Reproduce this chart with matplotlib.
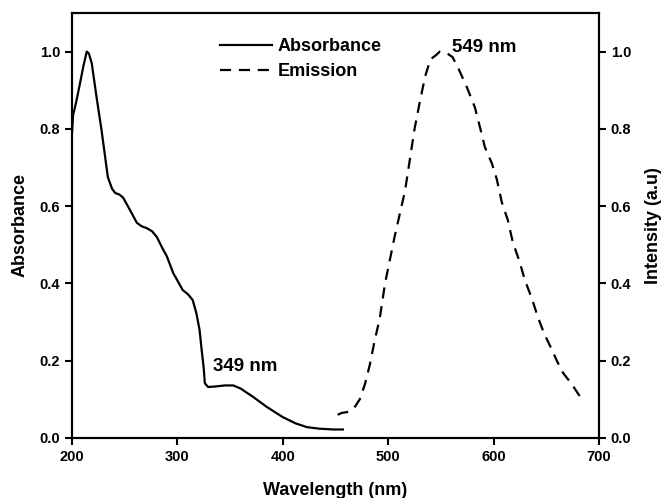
import matplotlib
matplotlib.use("Agg")
import matplotlib.pyplot as plt

plt.rcParams['font.family'] = ['Liberation Sans', 'DejaVu Sans']
plt.rcParams['font.weight'] = 'bold'

# Absorbance spectrum (wavelength nm, normalized absorbance)
abs_wl = [200, 201, 204, 207.6, 211, 214, 216, 218.7, 223.4, 228, 234, 238, 241, 245,
          248.5, 255, 261.5, 266, 271, 276, 280.5, 286, 290, 296, 305, 310, 314.5,
          318, 321, 323, 325, 326, 329, 335, 345, 353, 360, 372, 385, 400, 412, 423,
          435, 448, 457]
abs_val = [0.79, 0.835, 0.87, 0.918, 0.965, 1.0, 0.995, 0.97, 0.88, 0.797, 0.675,
           0.645, 0.634, 0.63, 0.622, 0.59, 0.557, 0.548, 0.543, 0.535, 0.52, 0.49,
           0.47, 0.427, 0.383, 0.372, 0.357, 0.323, 0.28, 0.228, 0.18, 0.142, 0.132,
           0.133, 0.136, 0.136, 0.128, 0.106, 0.08, 0.054, 0.038, 0.028, 0.024,
           0.022, 0.022]

# Emission spectrum (wavelength nm, normalized intensity)
em_wl = [452, 456, 461, 467, 473, 478, 482.6, 487, 492, 497, 501.5, 506, 511, 516,
         520.5, 525, 530, 535, 540, 545, 549, 552, 556, 561, 566, 574.6, 582.2, 587,
         591.7, 598.3, 603, 607.8, 613.5, 618.2, 624.8, 629.6, 636.2, 642, 648, 654,
         660, 666, 674, 682]
em_val = [0.06, 0.065, 0.067, 0.075, 0.10, 0.14, 0.19, 0.25, 0.31, 0.40, 0.46,
          0.52, 0.58, 0.64, 0.72, 0.80, 0.87, 0.935, 0.98, 0.99, 1.0, 0.999, 0.995,
          0.986, 0.96, 0.908, 0.856, 0.805, 0.753, 0.711, 0.67, 0.61, 0.564, 0.507,
          0.455, 0.409, 0.362, 0.313, 0.27, 0.236, 0.20, 0.168, 0.14, 0.107]

x_ticks = [200, 300, 400, 500, 600, 700]
y_ticks = [0.0, 0.2, 0.4, 0.6, 0.8, 1.0]

fig = plt.figure(figsize=(6.68, 4.98), dpi=100)
ax = fig.add_axes([0.1078, 0.1205, 0.7889, 0.8535])
ax2 = ax.twinx()

l1, = ax.plot(abs_wl, abs_val, color='black', lw=1.6, label='Absorbance')
l2, = ax2.plot(em_wl, em_val, color='black', lw=1.6, linestyle=(0, (5, 3.5)), label='Emission')

ax.set_xlim(200, 700)
ax.set_ylim(0, 1.1)
ax2.set_ylim(0, 1.1)
ax.set_xticks(x_ticks)
ax.set_yticks(y_ticks)
ax2.set_yticks(y_ticks)
ax.set_xticklabels([str(v) for v in x_ticks])
ax.set_yticklabels([f"{v:.1f}" for v in y_ticks])
ax2.set_yticklabels([f"{v:.1f}" for v in y_ticks])

for a in (ax, ax2):
    for s in a.spines.values():
        s.set_linewidth(1.5)
ax.tick_params(axis='both', direction='out', length=5, width=1.5, labelsize=10.5)
ax2.tick_params(axis='y', direction='out', length=5, width=1.5, labelsize=10.5)

ax.set_xlabel('Wavelength (nm)', fontsize=13, fontweight='bold', labelpad=13)
ax.set_ylabel('Absorbance', fontsize=13, fontweight='bold', labelpad=8)
ax2.set_ylabel('Intensity (a.u)', fontsize=13, fontweight='bold', labelpad=10)

ax.text(333.7, 0.184, '349 nm', fontsize=13.5, fontweight='bold', va='center', ha='left')
ax2.text(561, 1.01, '549 nm', fontsize=13.5, fontweight='bold', va='center', ha='left')

leg = ax.legend([l1, l2], ['Absorbance', 'Emission'], loc='upper left',
                bbox_to_anchor=(0.281, 0.941), frameon=False, fontsize=13,
                handlelength=2.9, handletextpad=0.3, labelspacing=0.46,
                borderpad=0, borderaxespad=0)
for t in leg.get_texts():
    t.set_fontweight('bold')

fig.savefig('out.png', dpi=100)
